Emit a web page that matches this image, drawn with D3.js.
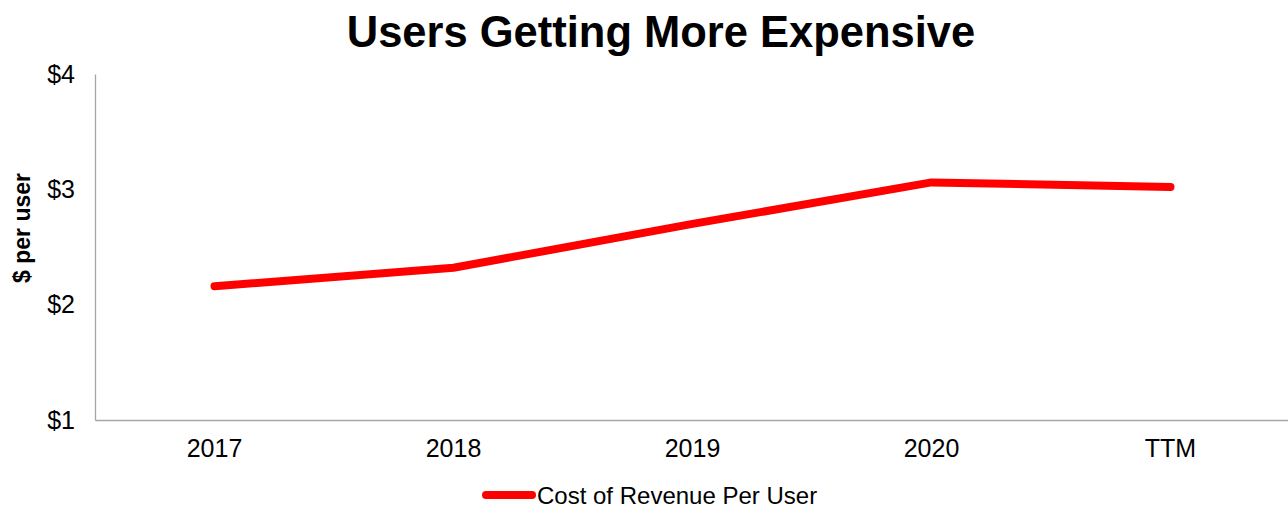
<!DOCTYPE html>
<html>
<head>
<meta charset="utf-8">
<script src="https://cdn.jsdelivr.net/npm/d3@7"></script>
<style>
  html, body { margin: 0; padding: 0; background: #fff; }
  svg { display: block; font-family: "Liberation Sans", Arial, sans-serif; }
</style>
</head>
<body>
<svg id="chart" width="1288" height="506"></svg>
<script>
// Cost of revenue per user, by fiscal year
const categories = ["2017", "2018", "2019", "2020", "TTM"];
const costPerUser = [2.16, 2.32, 2.70, 3.06, 3.02];
const yTicks = [1, 2, 3, 4];
const seriesName = "Cost of Revenue Per User";

const svg = d3.select("#chart");
const W = 1288, H = 506;
const margin = { left: 95, right: 0, top: 74, bottom: 86 };
const FONT = "Liberation Sans, Arial, sans-serif";

const x = d3.scaleBand()
  .domain(categories)
  .range([margin.left, W - margin.right + 2])
  .padding(0);

const y = d3.scaleLinear()
  .domain([1, 4])
  .range([H - margin.bottom, margin.top]);

// Title
svg.append("text")
  .attr("x", 661)
  .attr("y", 47)
  .attr("text-anchor", "middle")
  .attr("font-size", 43.5)
  .attr("font-weight", "bold")
  .attr("fill", "#000")
  .text("Users Getting More Expensive");

// Y axis
const yAxis = d3.axisLeft(y)
  .tickValues(yTicks)
  .tickSize(0)
  .tickPadding(20)
  .tickFormat(d => "$" + d);

const gy = svg.append("g")
  .attr("transform", `translate(${margin.left},0)`)
  .call(yAxis);
gy.select(".domain").attr("stroke", "#a6a6a6").attr("stroke-width", 1.3);
gy.selectAll("text").attr("font-size", 25).attr("fill", "#000")
  .attr("font-family", FONT);

// X axis
const xAxis = d3.axisBottom(x).tickSize(0).tickPadding(19);
const gx = svg.append("g")
  .attr("transform", `translate(0,${y(1)})`)
  .call(xAxis);
gx.select(".domain").attr("stroke", "#a6a6a6").attr("stroke-width", 1.3);
gx.selectAll("text").attr("font-size", 25).attr("fill", "#000")
  .attr("font-family", FONT);

// Y axis title
svg.append("text")
  .attr("transform", `translate(30,228) rotate(-90)`)
  .attr("text-anchor", "middle")
  .attr("font-size", 23)
  .attr("font-weight", "bold")
  .attr("fill", "#000")
  .text("$ per user");

// Series line
const line = d3.line()
  .x((d, i) => x(categories[i]) + x.bandwidth() / 2)
  .y(d => y(d));

svg.append("path")
  .datum(costPerUser)
  .attr("d", line)
  .attr("fill", "none")
  .attr("stroke", "#ff0000")
  .attr("stroke-width", 8)
  .attr("stroke-linecap", "round")
  .attr("stroke-linejoin", "round");

// Legend
const legend = svg.append("g").attr("transform", "translate(0,495)");
legend.append("line")
  .attr("x1", 486).attr("x2", 532)
  .attr("y1", 0).attr("y2", 0)
  .attr("stroke", "#ff0000")
  .attr("stroke-width", 8)
  .attr("stroke-linecap", "round");
legend.append("text")
  .attr("x", 537)
  .attr("y", 8.5)
  .attr("font-size", 24)
  .attr("fill", "#000")
  .text(seriesName);
</script>
</body>
</html>
